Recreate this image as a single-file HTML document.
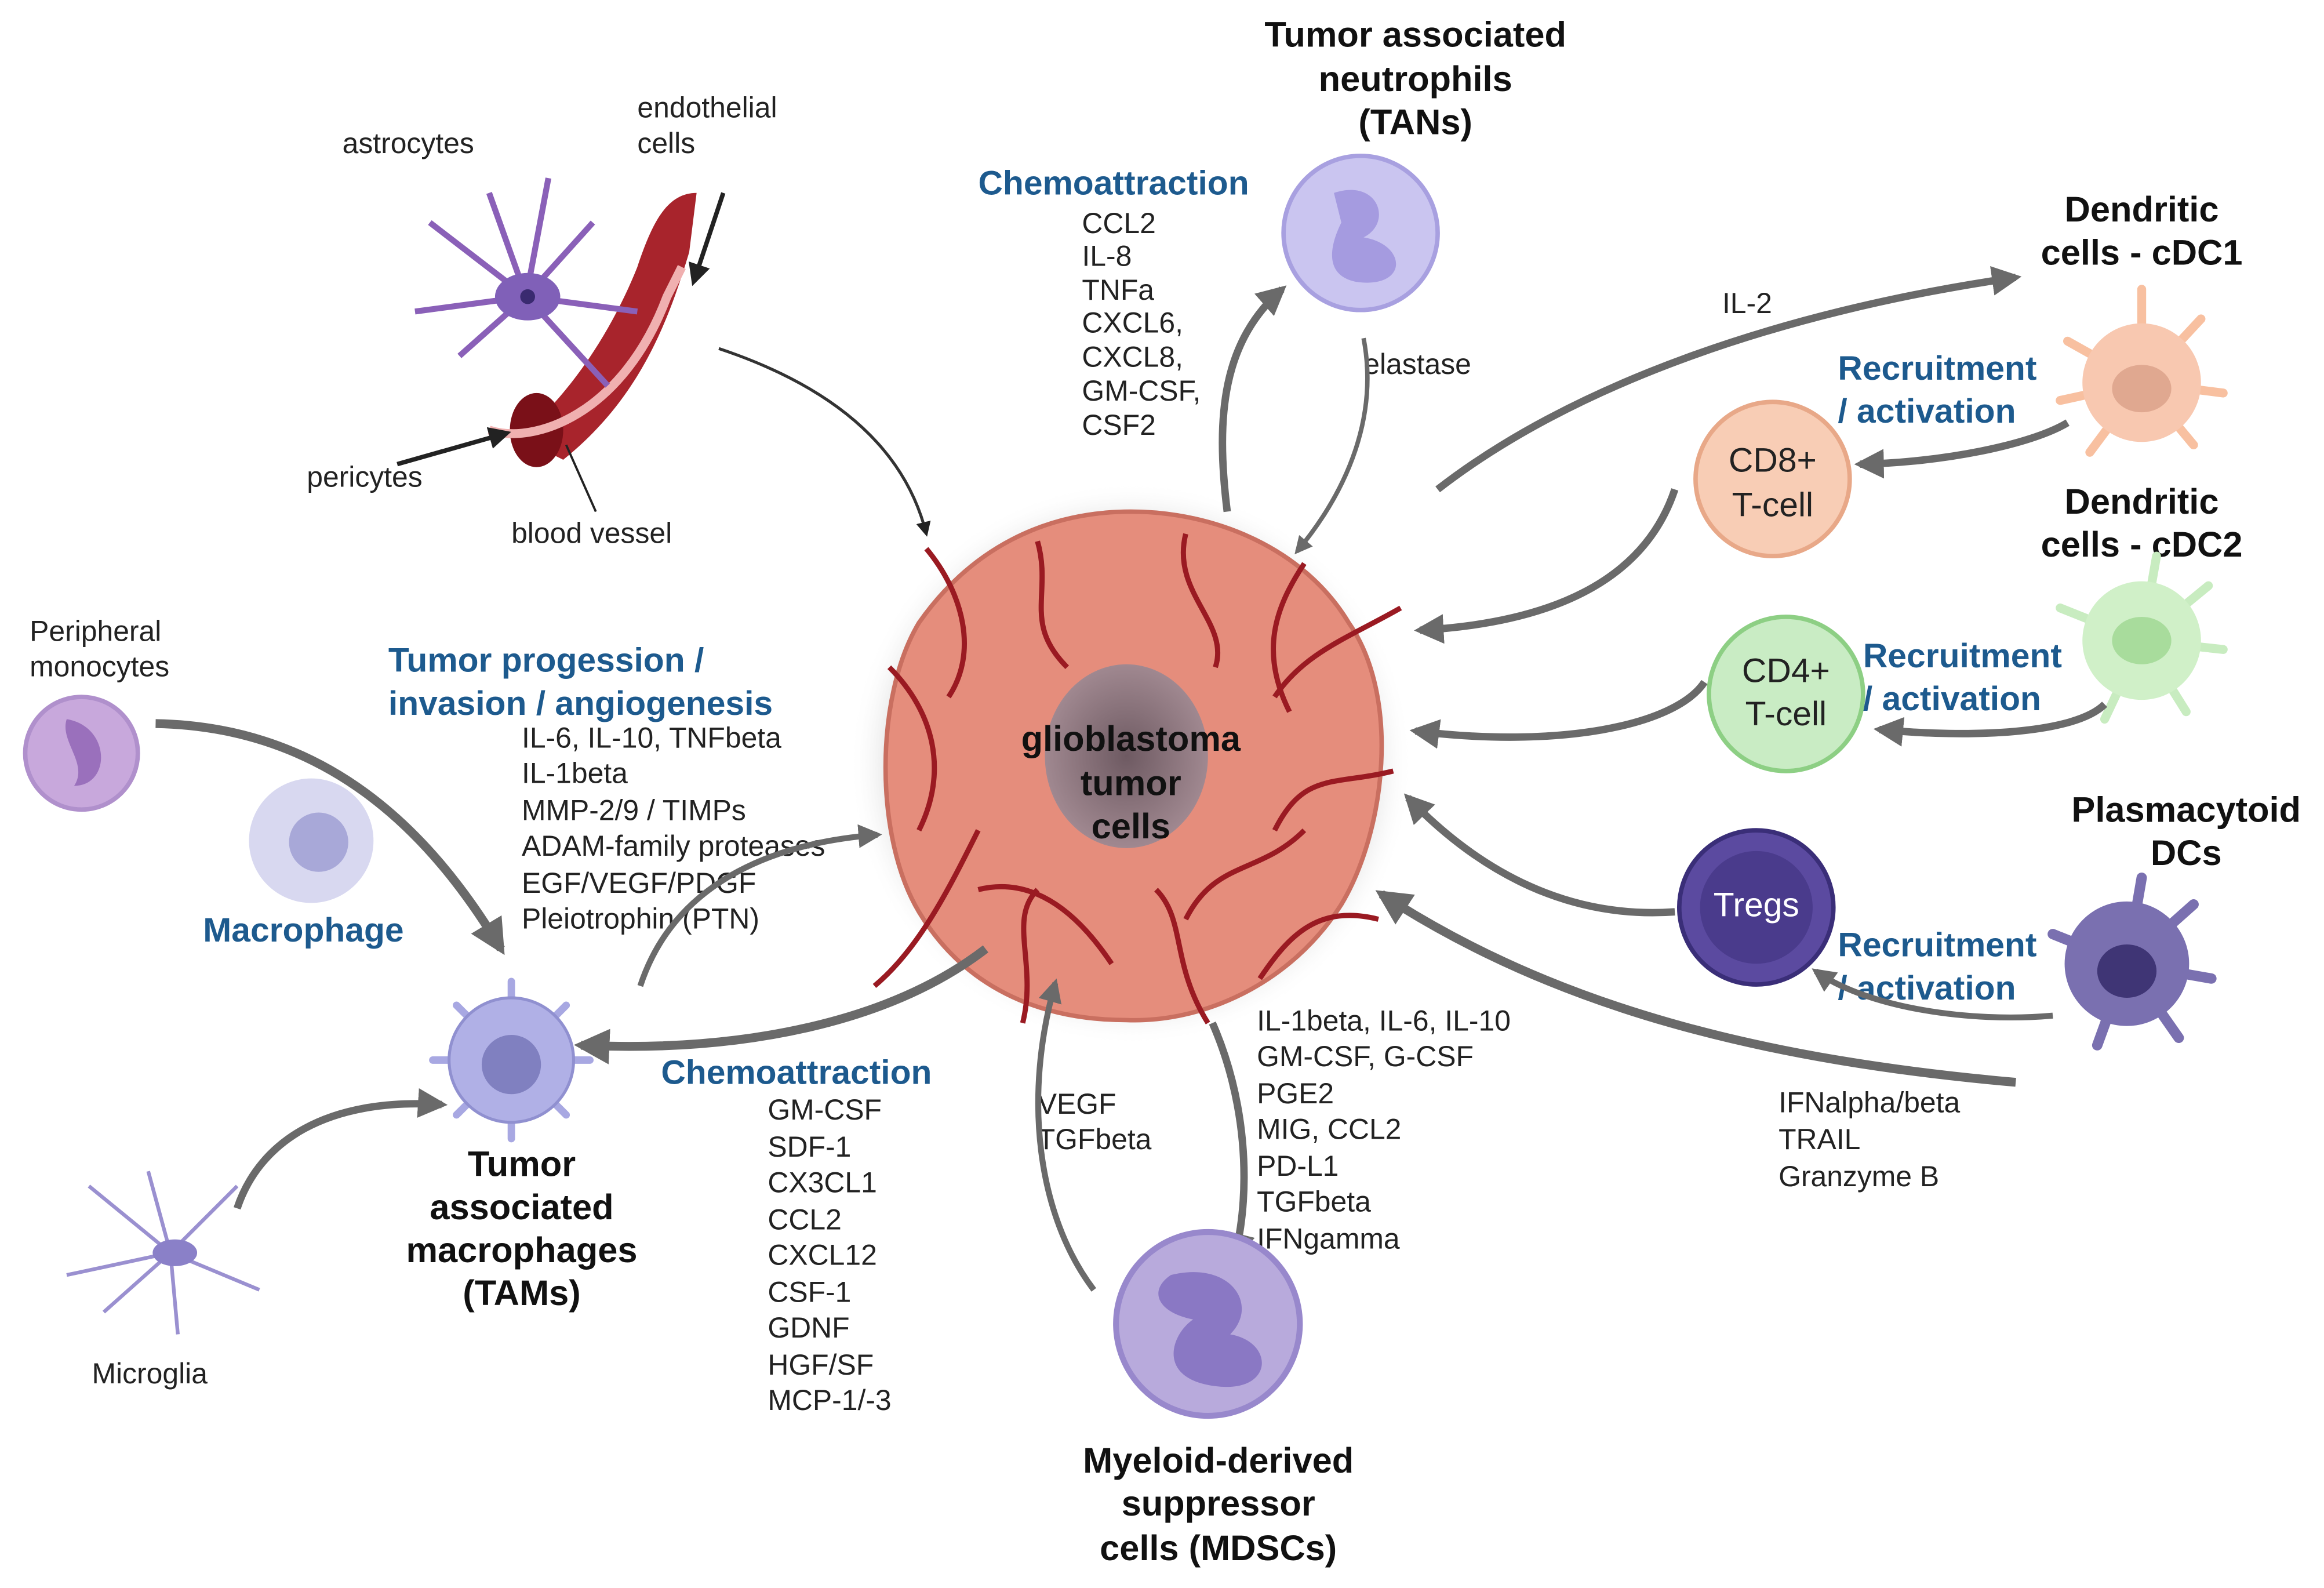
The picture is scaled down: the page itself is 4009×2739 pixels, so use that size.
<!DOCTYPE html>
<html><head><meta charset="utf-8"><style>
html,body{margin:0;padding:0;background:#fff}
svg{display:block}
text{font-family:"Liberation Sans",sans-serif;dominant-baseline:middle}
.b{font-weight:bold;font-size:24px;fill:#111}
.bl{font-weight:bold;font-size:23px;fill:#1d5a8e}
.t{font-size:19.5px;fill:#222}
</style></head><body>
<svg width="4009" height="2739" viewBox="0 0 1568 1071" xmlns="http://www.w3.org/2000/svg">
<defs>
<marker id="ah" viewBox="0 0 10 10" refX="8" refY="5" markerWidth="4" markerHeight="4" orient="auto"><path d="M0,0 L10,5 L0,10 z" fill="#6a6a6a"/></marker>
<marker id="ak" viewBox="0 0 10 10" refX="8" refY="5" markerWidth="5" markerHeight="5" orient="auto"><path d="M0,0 L10,5 L0,10 z" fill="#222"/></marker>
<radialGradient id="glow"><stop offset="0.8" stop-color="#d0d0d0"/><stop offset="1" stop-color="#fff" stop-opacity="0"/></radialGradient>
<radialGradient id="nuc"><stop offset="0" stop-color="#6e5a62"/><stop offset="1" stop-color="#a08890"/></radialGradient>
</defs>

<!-- tumor -->
<circle cx="763" cy="515" r="190" fill="url(#glow)"/>
<path d="M763,345 C820,345 880,370 910,420 C945,470 935,560 905,610 C870,665 810,690 760,688 C700,688 650,665 620,615 C590,565 590,470 620,420 C655,370 705,345 763,345Z" fill="#e58d7c" stroke="#c96f60" stroke-width="3"/>
<ellipse cx="760" cy="510" rx="55" ry="62" fill="url(#nuc)"/>
<g stroke="#9a1a22" stroke-width="3.5" fill="none">
<path d="M625,370 C650,400 660,440 640,470"/><path d="M700,365 C710,400 690,420 720,450"/><path d="M800,360 C790,400 830,420 820,450"/>
<path d="M945,410 C910,430 880,440 860,470"/><path d="M940,520 C900,530 880,520 860,560"/><path d="M930,620 C890,610 870,630 850,660"/>
<path d="M590,665 C620,640 640,600 660,560"/><path d="M690,690 C700,650 680,620 700,600"/><path d="M815,690 C790,650 800,620 780,600"/>
<path d="M600,450 C630,480 640,520 620,560"/><path d="M880,380 C860,410 850,440 870,480"/>
<path d="M660,600 C700,590 730,620 750,650"/><path d="M880,560 C850,590 820,580 800,620"/>
</g>
<text class="b" x="763" y="500" text-anchor="middle">glioblastoma</text>
<text class="b" x="763" y="530" text-anchor="middle">tumor</text>
<text class="b" x="763" y="559" text-anchor="middle">cells</text>

<!-- vessel/astro -->
<path d="M350,295 C380,270 410,230 430,180 C440,150 450,130 470,130 L465,170 C450,220 430,270 380,310 Z" fill="#a8242c"/>
<ellipse cx="362" cy="290" rx="18" ry="25" fill="#7a1018"/>
<path d="M330,290 C360,300 420,280 450,200 L460,180" stroke="#f0b0b0" stroke-width="6" fill="none"/>
<g stroke="#8a60b8" stroke-width="4" fill="none"><path d="M355,200 L290,150 M355,200 L310,240 M355,200 L280,210 M355,200 L330,130 M355,200 L400,150 M355,200 L430,210 M355,200 L410,260 M355,200 L370,120"/></g>
<ellipse cx="356" cy="200" rx="22" ry="16" fill="#8060b8"/><circle cx="356" cy="200" r="5" fill="#3a2a70"/>
<text class="t" x="231" y="98">astrocytes</text>
<text class="t" x="430" y="74">endothelial</text><text class="t" x="430" y="98">cells</text>
<text class="t" x="207" y="323">pericytes</text>
<text class="t" x="345" y="361">blood vessel</text>
<path d="M268,313 L342,292" stroke="#222" stroke-width="3" marker-end="url(#ak)"/>
<path d="M488,130 L468,190" stroke="#222" stroke-width="3" marker-end="url(#ak)"/>
<path d="M402,345 L382,300" stroke="#222" stroke-width="1.5"/>
<path d="M485,235 C560,260 610,300 625,360" stroke="#333" stroke-width="2" fill="none" marker-end="url(#ak)"/>

<!-- TANs -->
<text class="b" x="955" y="25" text-anchor="middle">Tumor associated</text>
<text class="b" x="955" y="55" text-anchor="middle">neutrophils</text>
<text class="b" x="955" y="84" text-anchor="middle">(TANs)</text>
<circle cx="918" cy="157" r="52" fill="#cac5f0" stroke="#a8a0e0" stroke-width="3"/>
<path d="M900,130 C930,120 940,150 920,160 C950,165 950,195 915,190 C890,185 900,160 905,150Z" fill="#a59be0"/>
<text class="bl" x="660" y="125">Chemoattraction</text>
<text class="t" x="730" y="152">CCL2</text><text class="t" x="730" y="174">IL-8</text><text class="t" x="730" y="197">TNFa</text><text class="t" x="730" y="219">CXCL6,</text><text class="t" x="730" y="242">CXCL8,</text><text class="t" x="730" y="265">GM-CSF,</text><text class="t" x="730" y="288">CSF2</text>
<text class="t" x="920" y="247">elastase</text>
<path d="M828,345 C820,280 825,230 865,195" stroke="#6a6a6a" stroke-width="5" fill="none" marker-end="url(#ah)"/>
<path d="M920,228 C930,280 910,330 875,372" stroke="#6a6a6a" stroke-width="3" fill="none" marker-end="url(#ah)"/>

<!-- right side -->
<text class="t" x="1162" y="206">IL-2</text>
<path d="M970,330 C1060,260 1200,210 1360,187" stroke="#6a6a6a" stroke-width="5" fill="none" marker-end="url(#ah)"/>
<text class="b" x="1445" y="143" text-anchor="middle">Dendritic</text>
<text class="b" x="1445" y="172" text-anchor="middle">cells - cDC1</text>
<g stroke="#f8c0a0" stroke-width="6" stroke-linecap="round"><path d="M1445,258 L1445,195 M1445,258 L1500,265 M1445,258 L1395,230 M1445,258 L1410,305 M1445,258 L1480,300 M1445,258 L1485,215 M1445,258 L1390,270"/></g>
<circle cx="1445" cy="258" r="40" fill="#f8c8b0"/><ellipse cx="1445" cy="262" rx="20" ry="16" fill="#e0a890"/>
<text class="bl" x="1240" y="250">Recruitment</text><text class="bl" x="1240" y="279">/ activation</text>
<circle cx="1196" cy="323" r="52" fill="#f8cdb5" stroke="#e8a888" stroke-width="3"/>
<text class="t" x="1196" y="312" text-anchor="middle" style="font-size:23px">CD8+</text><text class="t" x="1196" y="342" text-anchor="middle" style="font-size:23px">T-cell</text>
<path d="M1395,285 C1370,300 1310,312 1255,313" stroke="#6a6a6a" stroke-width="5" fill="none" marker-end="url(#ah)"/>
<path d="M1130,330 C1110,390 1050,420 958,425" stroke="#6a6a6a" stroke-width="5" fill="none" marker-end="url(#ah)"/>
<text class="b" x="1445" y="340" text-anchor="middle">Dendritic</text>
<text class="b" x="1445" y="369" text-anchor="middle">cells - cDC2</text>
<g stroke="#c8ecc0" stroke-width="6" stroke-linecap="round"><path d="M1445,432 L1455,375 M1445,432 L1500,438 M1445,432 L1390,410 M1445,432 L1420,485 M1445,432 L1475,480 M1445,432 L1490,395"/></g>
<circle cx="1445" cy="432" r="40" fill="#d0f0c8"/><ellipse cx="1445" cy="432" rx="20" ry="16" fill="#a8dc9c"/>
<circle cx="1205" cy="468" r="52" fill="#c9ecc4" stroke="#8dcf84" stroke-width="3"/>
<text class="t" x="1205" y="454" text-anchor="middle" style="font-size:23px">CD4+</text><text class="t" x="1205" y="483" text-anchor="middle" style="font-size:23px">T-cell</text>
<text class="bl" x="1257" y="444">Recruitment</text><text class="bl" x="1257" y="473">/ activation</text>
<path d="M1420,475 C1400,495 1330,498 1268,492" stroke="#6a6a6a" stroke-width="5" fill="none" marker-end="url(#ah)"/>
<path d="M1150,460 C1130,490 1050,505 955,493" stroke="#6a6a6a" stroke-width="5" fill="none" marker-end="url(#ah)"/>
<text class="b" x="1475" y="548" text-anchor="middle">Plasmacytoid</text>
<text class="b" x="1475" y="577" text-anchor="middle">DCs</text>
<g stroke="#7a70b0" stroke-width="7" stroke-linecap="round"><path d="M1435,650 L1445,592 M1435,650 L1492,660 M1435,650 L1385,630 M1435,650 L1415,705 M1435,650 L1470,700 M1435,650 L1480,610"/></g>
<circle cx="1435" cy="650" r="42" fill="#7a70b0"/><ellipse cx="1435" cy="655" rx="20" ry="18" fill="#3f3575"/>
<circle cx="1185" cy="612" r="52" fill="#5b4aa0" stroke="#3a2e78" stroke-width="3"/><circle cx="1185" cy="612" r="38" fill="#4a3b8c"/>
<text x="1185" y="612" text-anchor="middle" style="font-size:23px;fill:#fff">Tregs</text>
<text class="bl" x="1240" y="639">Recruitment</text><text class="bl" x="1240" y="668">/ activation</text>
<path d="M1385,685 C1330,690 1260,680 1225,655" stroke="#6a6a6a" stroke-width="4" fill="none" marker-end="url(#ah)"/>
<path d="M1130,615 C1060,620 1000,590 950,538" stroke="#6a6a6a" stroke-width="5" fill="none" marker-end="url(#ah)"/>
<path d="M1360,730 C1190,715 1050,680 932,603" stroke="#6a6a6a" stroke-width="6" fill="none" marker-end="url(#ah)"/>
<text class="t" x="1200" y="745">IFNalpha/beta</text><text class="t" x="1200" y="770">TRAIL</text><text class="t" x="1200" y="795">Granzyme B</text>

<!-- left -->
<text class="t" x="20" y="427">Peripheral</text><text class="t" x="20" y="451">monocytes</text>
<circle cx="55" cy="508" r="38" fill="#c8a8dc" stroke="#b090cc" stroke-width="3"/><path d="M45,485 C75,490 75,530 50,530 C60,515 40,500 45,485Z" fill="#9a70bc"/>
<circle cx="210" cy="567" r="42" fill="#d8d8f0"/><circle cx="215" cy="568" r="20" fill="#a8a8d8"/>
<text class="bl" x="137" y="629">Macrophage</text>
<path d="M105,488 C220,490 290,560 338,640" stroke="#6a6a6a" stroke-width="6" fill="none" marker-end="url(#ah)"/>
<text class="bl" x="262" y="447">Tumor progession /</text><text class="bl" x="262" y="476">invasion / angiogenesis</text>
<text class="t" x="352" y="499">IL-6, IL-10, TNFbeta</text><text class="t" x="352" y="523">IL-1beta</text><text class="t" x="352" y="548">MMP-2/9 / TIMPs</text><text class="t" x="352" y="572">ADAM-family proteases</text><text class="t" x="352" y="597">EGF/VEGF/PDGF</text><text class="t" x="352" y="621">Pleiotrophin (PTN)</text>
<path d="M432,665 C450,610 500,570 592,563" stroke="#6a6a6a" stroke-width="4" fill="none" marker-end="url(#ah)"/>
<g stroke="#a8a8e2" stroke-width="5" stroke-linecap="round"><path d="M345,715 L345,662 M345,715 L398,715 M345,715 L292,715 M345,715 L345,768 M345,715 L382,678 M345,715 L308,678 M345,715 L382,752 M345,715 L308,752"/></g>
<circle cx="345" cy="715" r="42" fill="#b0b0e6" stroke="#9090d0" stroke-width="2"/><circle cx="345" cy="718" r="20" fill="#8080c0"/>
<text class="b" x="352" y="787" text-anchor="middle">Tumor</text><text class="b" x="352" y="816" text-anchor="middle">associated</text><text class="b" x="352" y="845" text-anchor="middle">macrophages</text><text class="b" x="352" y="874" text-anchor="middle">(TAMs)</text>
<path d="M665,640 C600,690 500,710 392,705" stroke="#6a6a6a" stroke-width="6" fill="none" marker-end="url(#ah)"/>
<g stroke="#9a90d0" stroke-width="2.5" fill="none"><path d="M115,845 L60,800 M115,845 L45,860 M115,845 L100,790 M115,845 L160,800 M115,845 L175,870 M115,845 L120,900 M115,845 L70,885"/></g>
<ellipse cx="118" cy="845" rx="15" ry="9" fill="#8a80c8"/>
<text class="t" x="62" y="928">Microglia</text>
<path d="M160,815 C175,770 220,740 298,745" stroke="#6a6a6a" stroke-width="5" fill="none" marker-end="url(#ah)"/>
<text class="bl" x="446" y="725">Chemoattraction</text>
<text class="t" x="518" y="750">GM-CSF</text><text class="t" x="518" y="775">SDF-1</text><text class="t" x="518" y="799">CX3CL1</text><text class="t" x="518" y="824">CCL2</text><text class="t" x="518" y="848">CXCL12</text><text class="t" x="518" y="873">CSF-1</text><text class="t" x="518" y="897">GDNF</text><text class="t" x="518" y="922">HGF/SF</text><text class="t" x="518" y="946">MCP-1/-3</text>

<!-- MDSC -->
<text class="t" x="700" y="746">VEGF</text><text class="t" x="700" y="770">TGFbeta</text>
<path d="M738,870 C700,820 690,740 712,663" stroke="#6a6a6a" stroke-width="4" fill="none" marker-end="url(#ah)"/>
<path d="M818,690 C840,740 845,800 833,848" stroke="#6a6a6a" stroke-width="5" fill="none" marker-end="url(#ah)"/>
<text class="t" x="848" y="690">IL-1beta, IL-6, IL-10</text><text class="t" x="848" y="714">GM-CSF, G-CSF</text><text class="t" x="848" y="739">PGE2</text><text class="t" x="848" y="763">MIG, CCL2</text><text class="t" x="848" y="788">PD-L1</text><text class="t" x="848" y="812">TGFbeta</text><text class="t" x="848" y="837">IFNgamma</text>
<circle cx="815" cy="893" r="62" fill="#b8aadc" stroke="#9888cc" stroke-width="4"/>
<path d="M790,860 C830,850 850,880 830,900 C860,905 860,940 820,935 C780,930 790,900 805,890 C780,885 775,870 790,860Z" fill="#8a78c4"/>
<text class="b" x="822" y="987" text-anchor="middle">Myeloid-derived</text><text class="b" x="822" y="1016" text-anchor="middle">suppressor</text><text class="b" x="822" y="1046" text-anchor="middle">cells (MDSCs)</text>
</svg>
</body></html>
